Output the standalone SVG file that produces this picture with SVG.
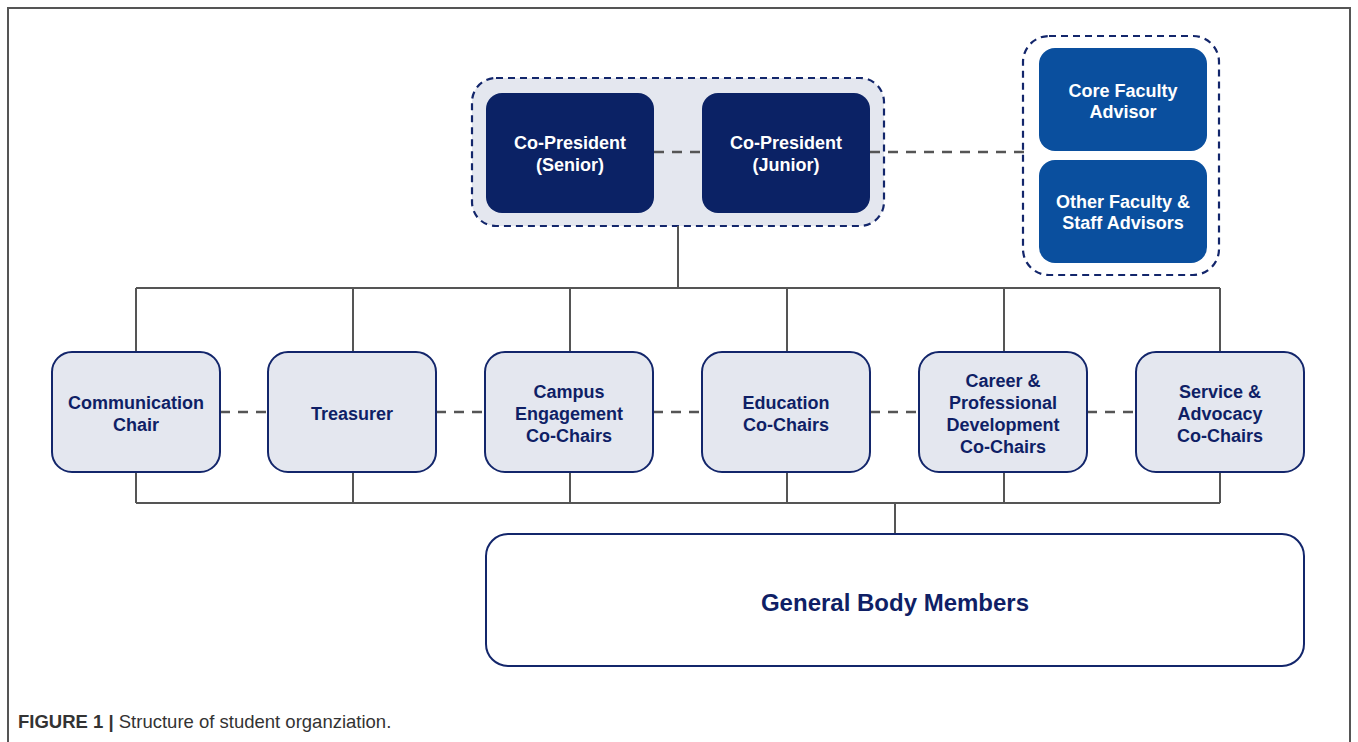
<svg xmlns="http://www.w3.org/2000/svg" width="1358" height="742" viewBox="0 0 1358 742">
<style>
.frame{fill:none;stroke:#555;stroke-width:2}
.grp{stroke:#13266b;stroke-width:2.2;stroke-dasharray:7 5}
.dark{fill:#0b2265}
.mid{fill:#0a4f9e}
.box{fill:#e4e7ef;stroke:#13266b;stroke-width:2}
.gbm{fill:#fff;stroke:#13266b;stroke-width:2}
.wt{font-family:"Liberation Sans",Arial,sans-serif;font-weight:bold;font-size:18px;fill:#fff;text-anchor:middle}
.nt{font-family:"Liberation Sans",Arial,sans-serif;font-weight:bold;font-size:18px;fill:#0f1f66;text-anchor:middle}
.ln{fill:none;stroke:#555;stroke-width:2}
.dl{fill:none;stroke:#555;stroke-width:2.5;stroke-dasharray:10 8}
.cap{font-family:"Liberation Sans",Arial,sans-serif;font-size:18.5px;fill:#333}
</style>
<rect width="1358" height="742" fill="#fff"/>
<path class="frame" d="M8,742 V8 H1350 V742"/>
<g id="copresidents">
<rect class="grp" x="472" y="78" width="412" height="148" rx="24" fill="#e4e7ef"/>
</g>
<g id="advisors">
<rect class="grp" x="1023" y="36" width="196" height="239" rx="26" fill="none"/>
</g>
<g id="connectors">
<path class="dl" d="M654,152 H702"/>
<path class="dl" d="M870,152 H1024"/>
<path class="ln" d="M678,226 V288 M136,288 H1220 M136,288 V352 M353,288 V352 M570,288 V352 M787,288 V352 M1004,288 V352 M1220,288 V352"/>
<path class="dl" d="M220,412 H268 M436,412 H485 M653,412 H702 M870,412 H919 M1087,412 H1136"/>
<path class="ln" d="M136,472 V503 M353,472 V503 M570,472 V503 M787,472 V503 M1004,472 V503 M1220,472 V503 M136,503 H1220 M895,503 V534"/>
</g>
<g id="senior">
<rect class="dark" x="486" y="93" width="168" height="120" rx="16"/>
<text class="wt" x="570" y="149">Co-President</text>
<text class="wt" x="570" y="171">(Senior)</text>
</g>
<g id="junior">
<rect class="dark" x="702" y="93" width="168" height="120" rx="16"/>
<text class="wt" x="786" y="149">Co-President</text>
<text class="wt" x="786" y="171">(Junior)</text>
</g>
<g id="core">
<rect class="mid" x="1039" y="48" width="168" height="103" rx="16"/>
<text class="wt" x="1123" y="97">Core Faculty</text>
<text class="wt" x="1123" y="118">Advisor</text>
</g>
<g id="other">
<rect class="mid" x="1039" y="160" width="168" height="103" rx="16"/>
<text class="wt" x="1123" y="208">Other Faculty &amp;</text>
<text class="wt" x="1123" y="229">Staff Advisors</text>
</g>
<g id="communication">
<rect class="box" x="52" y="352" width="168" height="120" rx="20"/>
<text class="nt" x="136" y="409">Communication</text>
<text class="nt" x="136" y="431">Chair</text>
</g>
<g id="treasurer">
<rect class="box" x="268" y="352" width="168" height="120" rx="20"/>
<text class="nt" x="352" y="420">Treasurer</text>
</g>
<g id="campus">
<rect class="box" x="485" y="352" width="168" height="120" rx="20"/>
<text class="nt" x="569" y="398">Campus</text>
<text class="nt" x="569" y="420">Engagement</text>
<text class="nt" x="569" y="442">Co-Chairs</text>
</g>
<g id="education">
<rect class="box" x="702" y="352" width="168" height="120" rx="20"/>
<text class="nt" x="786" y="409">Education</text>
<text class="nt" x="786" y="431">Co-Chairs</text>
</g>
<g id="career">
<rect class="box" x="919" y="352" width="168" height="120" rx="20"/>
<text class="nt" x="1003" y="387">Career &amp;</text>
<text class="nt" x="1003" y="409">Professional</text>
<text class="nt" x="1003" y="431">Development</text>
<text class="nt" x="1003" y="453">Co-Chairs</text>
</g>
<g id="service">
<rect class="box" x="1136" y="352" width="168" height="120" rx="20"/>
<text class="nt" x="1220" y="398">Service &amp;</text>
<text class="nt" x="1220" y="420">Advocacy</text>
<text class="nt" x="1220" y="442">Co-Chairs</text>
</g>
<g id="general">
<rect class="gbm" x="486" y="534" width="818" height="132" rx="22"/>
<text class="nt" x="895" y="611" style="font-size:24px">General Body Members</text>
</g>
<text class="cap" x="18" y="728"><tspan font-weight="bold">FIGURE 1 |</tspan> Structure of student organziation.</text>
</svg>
